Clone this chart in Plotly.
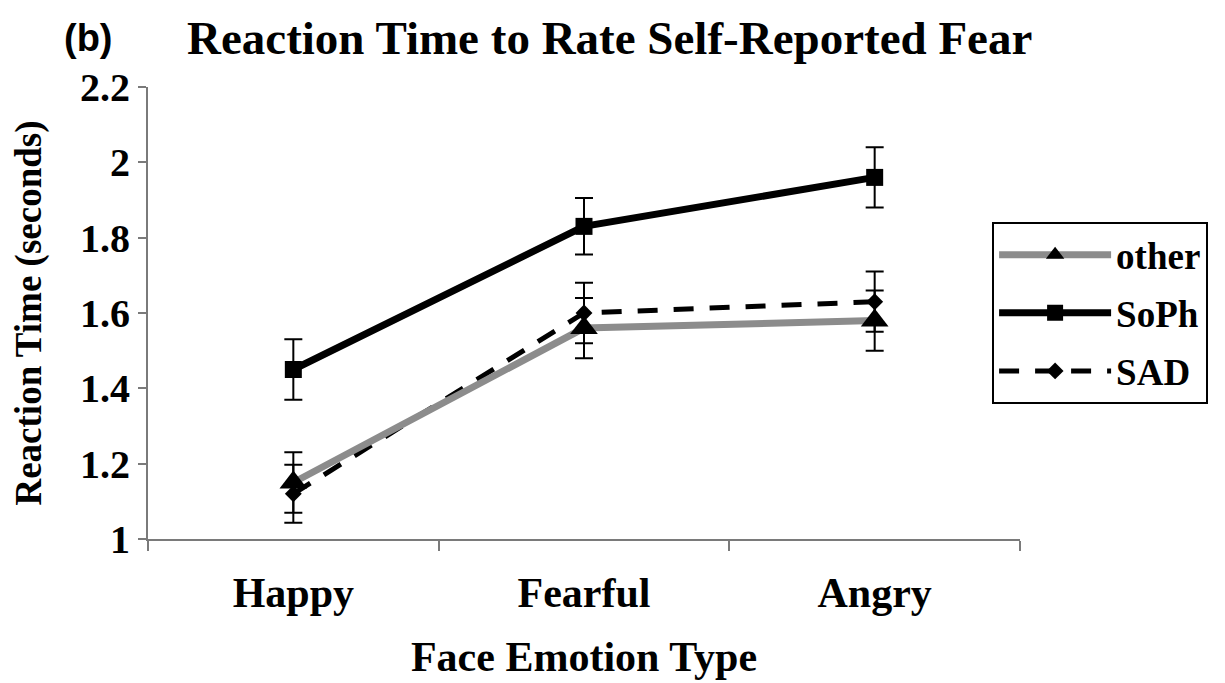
import plotly.graph_objects as go

categories = ["Happy", "Fearful", "Angry"]
other = [1.15, 1.56, 1.58]
other_err = [0.08, 0.08, 0.08]
soph = [1.45, 1.83, 1.96]
soph_err = [0.08, 0.075, 0.08]
sad = [1.12, 1.60, 1.63]
sad_err = [0.077, 0.08, 0.08]
y_ticks = [1, 1.2, 1.4, 1.6, 1.8, 2, 2.2]
y_tick_labels = ["1", "1.2", "1.4", "1.6", "1.8", "2", "2.2"]

SERIF = "Liberation Serif, Times New Roman, serif"

fig = go.Figure()

fig.add_trace(go.Scatter(
    x=categories, y=sad, name="SAD", legendgroup="c", legendrank=3,
    mode="lines+markers",
    line=dict(color="black", width=5, dash="20px,16px"),
    marker=dict(symbol="diamond", size=13, color="black"),
    error_y=dict(type="data", array=sad_err, color="black", thickness=2, width=9),
))
fig.add_trace(go.Scatter(
    x=categories, y=other, name="other", legendgroup="a", legendrank=1,
    mode="lines+markers",
    line=dict(color="#8c8c8c", width=7),
    marker=dict(symbol="triangle-up", size=24, color="black"),
    error_y=dict(type="data", array=other_err, color="black", thickness=2, width=9),
))
fig.add_trace(go.Scatter(
    x=categories, y=soph, name="SoPh", legendgroup="b", legendrank=2,
    mode="lines+markers",
    line=dict(color="black", width=7),
    marker=dict(symbol="square", size=17, color="black"),
    error_y=dict(type="data", array=soph_err, color="black", thickness=2, width=9),
))

fig.update_layout(
    width=1225, height=683,
    margin=dict(l=140, r=213, t=79, b=152, autoexpand=False),
    paper_bgcolor="white", plot_bgcolor="white",
    font=dict(family=SERIF, color="black"),
    showlegend=True,
    legend=dict(
        x=0.968, y=0.701, xanchor="left", yanchor="top",
        bordercolor="black", borderwidth=2, bgcolor="white",
        font=dict(family=SERIF, size=37, color="black", weight="bold"),
        itemwidth=112, tracegroupgap=7,
    ),
    xaxis=dict(
        type="category", tickson="boundaries", range=[-0.5, 2.5],
        showline=True, linecolor="#7a7a7a", linewidth=2,
        ticks="outside", ticklen=10, tickwidth=2, tickcolor="#7a7a7a",
        showgrid=False, zeroline=False, ticklabelstandoff=16,
        tickfont=dict(family=SERIF, size=42, color="black", weight="bold"),
        title=dict(text="Face Emotion Type", standoff=26,
                   font=dict(family=SERIF, size=42, color="black", weight="bold")),
    ),
    yaxis=dict(
        range=[1, 2.2], tickvals=y_ticks, ticktext=y_tick_labels,
        showline=True, linecolor="#7a7a7a", linewidth=2,
        ticks="outside", ticklen=8, tickwidth=2, tickcolor="#7a7a7a",
        showgrid=False, zeroline=False,
        tickfont=dict(family=SERIF, size=40, color="black", weight="bold"),
        title=dict(text="Reaction Time (seconds)", standoff=28,
                   font=dict(family=SERIF, size=37, color="black", weight="bold")),
    ),
    annotations=[
        dict(text="(b)", xref="paper", yref="paper", x=-0.099, y=1.0, yshift=49,
             xanchor="left", yanchor="middle", showarrow=False,
             font=dict(family="Liberation Sans, Arial, sans-serif", size=38, color="black", weight="bold")),
        dict(text="Reaction Time to Rate Self-Reported Fear", xref="paper", yref="paper",
             x=0.042, y=1.0, yshift=49, xanchor="left", yanchor="middle", showarrow=False,
             font=dict(family=SERIF, size=47, color="black", weight="bold")),
    ],
)

fig.write_html("out.html")
